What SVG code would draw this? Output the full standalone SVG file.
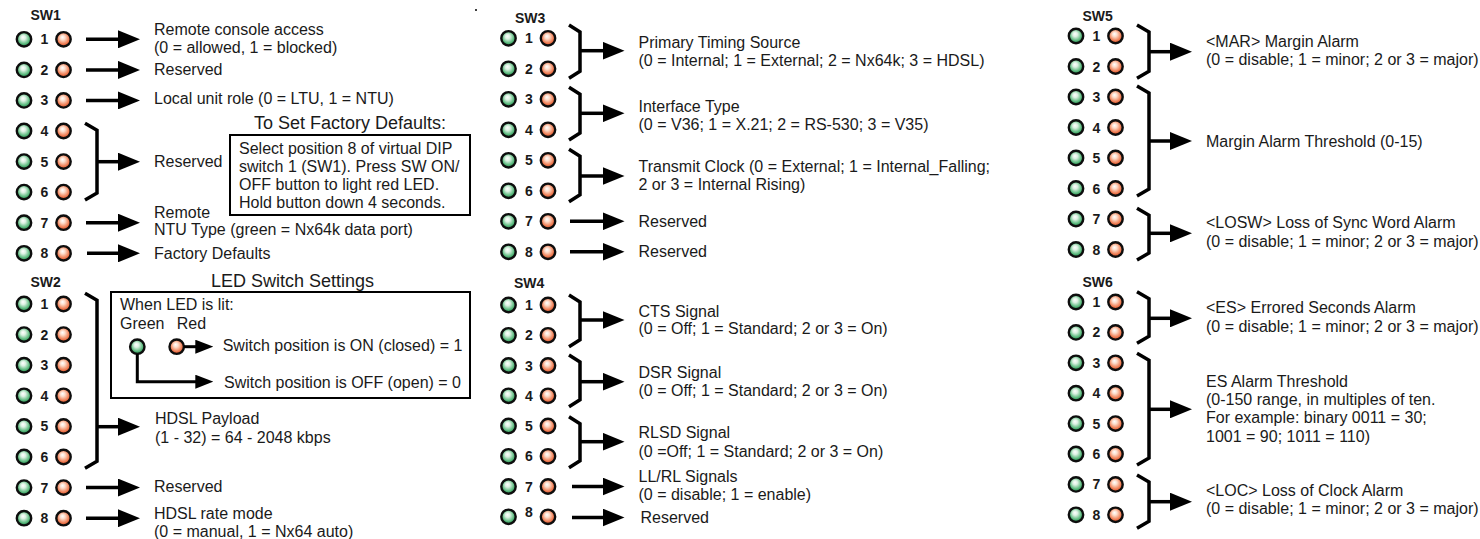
<svg xmlns="http://www.w3.org/2000/svg" width="1480" height="539" viewBox="0 0 1480 539">
<style>
.t{font-family:"Liberation Sans",Arial,Helvetica,sans-serif;font-size:16px;fill:#1a1a1a}
.h{font-family:"Liberation Sans",Arial,Helvetica,sans-serif;font-size:18px;fill:#1a1a1a;text-anchor:middle}
.n{font-family:"Liberation Sans",Arial,Helvetica,sans-serif;font-size:14px;font-weight:bold;fill:#1a1a1a;text-anchor:middle}
.sw{font-family:"Liberation Sans",Arial,Helvetica,sans-serif;font-size:14px;font-weight:bold;fill:#1a1a1a}
.g{fill:url(#gg);stroke:#0d0d0d;stroke-width:2.4}
.o{fill:url(#go);stroke:#0d0d0d;stroke-width:2.4}
.ar{fill:none;stroke:#000;stroke-width:3.5;marker-end:url(#ah)}
.as{fill:none;stroke:#000;stroke-width:3;marker-end:url(#ahs)}
.br{fill:none;stroke:#000;stroke-width:3.5;stroke-linejoin:miter}
.box{fill:#fff;stroke:#000;stroke-width:2}
</style>
<defs>
<radialGradient id="gg" cx="50%" cy="45%" r="55%" fx="42%" fy="35%">
<stop offset="0" stop-color="#ffffff"/><stop offset="0.3" stop-color="#dcf1e2"/><stop offset="0.7" stop-color="#62bd83"/><stop offset="1" stop-color="#1c8646"/>
</radialGradient>
<radialGradient id="go" cx="50%" cy="45%" r="55%" fx="42%" fy="35%">
<stop offset="0" stop-color="#ffffff"/><stop offset="0.3" stop-color="#fddcca"/><stop offset="0.7" stop-color="#f0845c"/><stop offset="1" stop-color="#d4471e"/>
</radialGradient>
<marker id="ah" markerUnits="userSpaceOnUse" markerWidth="22" markerHeight="18" refX="7" refY="9" orient="auto">
<path d="M0,0 L22,9 L0,18 Z" fill="#000"/>
</marker>
<marker id="ahs" markerUnits="userSpaceOnUse" markerWidth="18" markerHeight="14" refX="6" refY="7" orient="auto">
<path d="M0,0 L18,7 L0,14 Z" fill="#000"/>
</marker>
<g id="pair"><circle class="g" cx="0" cy="0" r="7.2"/><circle class="o" cx="39.5" cy="0" r="7.2"/></g>
</defs>
<rect width="1480" height="539" fill="#fff"/>
<circle cx="476" cy="10" r="1" fill="#000"/>

<!-- SW1 -->
<g id="sw1">
<text class="sw" x="30.5" y="20">SW1</text>
<g id="sw1-1"><use href="#pair" x="24" y="39.3"/><text class="n" x="44.5" y="44.3">1</text></g>
<g id="sw1-2"><use href="#pair" x="24" y="69.9"/><text class="n" x="44.5" y="74.9">2</text></g>
<g id="sw1-3"><use href="#pair" x="24" y="100.4"/><text class="n" x="44.5" y="105.4">3</text></g>
<g id="sw1-4"><use href="#pair" x="24" y="131"/><text class="n" x="44.5" y="136">4</text></g>
<g id="sw1-5"><use href="#pair" x="24" y="161.6"/><text class="n" x="44.5" y="166.6">5</text></g>
<g id="sw1-6"><use href="#pair" x="24" y="192.1"/><text class="n" x="44.5" y="197.1">6</text></g>
<g id="sw1-7"><use href="#pair" x="24" y="222.7"/><text class="n" x="44.5" y="227.7">7</text></g>
<g id="sw1-8"><use href="#pair" x="24" y="253.3"/><text class="n" x="44.5" y="258.3">8</text></g>
</g>
<g id="sw1-desc">
<text class="t" x="154" y="35">Remote console access</text>
<text class="t" x="154" y="53">(0 = allowed, 1 = blocked)</text>
<text class="t" x="154" y="75">Reserved</text>
<text class="t" x="154" y="104">Local unit role (0 = LTU, 1 = NTU)</text>
<text class="t" x="154" y="167">Reserved</text>
<text class="t" x="154" y="217.5">Remote</text>
<text class="t" x="154" y="235">NTU Type (green = Nx64k data port)</text>
<text class="t" x="154" y="259">Factory Defaults</text>
</g>
<g id="factory-box">
<text class="h" x="350" y="128.5">To Set Factory Defaults:</text>
<rect class="box" x="230" y="135" width="240" height="80"/>
<text class="t" x="239" y="153.5">Select position 8 of virtual DIP</text>
<text class="t" x="239" y="171.5">switch 1 (SW1). Press SW ON/</text>
<text class="t" x="239" y="189.5">OFF button to light red LED.</text>
<text class="t" x="239" y="207.5">Hold button down 4 seconds.</text>
</g>

<!-- SW2 -->
<g id="sw2">
<text class="sw" x="30.5" y="286.7">SW2</text>
<g id="sw2-1"><use href="#pair" x="24" y="304"/><text class="n" x="44.5" y="309">1</text></g>
<g id="sw2-2"><use href="#pair" x="24" y="334.6"/><text class="n" x="44.5" y="339.6">2</text></g>
<g id="sw2-3"><use href="#pair" x="24" y="365.2"/><text class="n" x="44.5" y="370.2">3</text></g>
<g id="sw2-4"><use href="#pair" x="24" y="395.8"/><text class="n" x="44.5" y="400.8">4</text></g>
<g id="sw2-5"><use href="#pair" x="24" y="426.4"/><text class="n" x="44.5" y="431.4">5</text></g>
<g id="sw2-6"><use href="#pair" x="24" y="457"/><text class="n" x="44.5" y="462">6</text></g>
<g id="sw2-7"><use href="#pair" x="24" y="487.6"/><text class="n" x="44.5" y="492.6">7</text></g>
<g id="sw2-8"><use href="#pair" x="24" y="518.2"/><text class="n" x="44.5" y="523.2">8</text></g>
</g>
<g id="sw2-desc">
<text class="t" x="155" y="424.3">HDSL Payload</text>
<text class="t" x="155" y="442.7">(1 - 32) = 64 - 2048 kbps</text>
<text class="t" x="154" y="492.3">Reserved</text>
<text class="t" x="154" y="519.3">HDSL rate mode</text>
<text class="t" x="154" y="537.3">(0 = manual, 1 = Nx64 auto)</text>
</g>
<g id="led-box">
<text class="h" x="292.5" y="286.5">LED Switch Settings</text>
<rect class="box" x="111" y="292" width="359" height="106"/>
<text class="t" x="120" y="310">When LED is lit:</text>
<text class="t" x="120" y="329.3">Green</text>
<text class="t" x="176.7" y="329.3">Red</text>
<circle class="g" cx="137.3" cy="346.7" r="7.2"/>
<circle class="o" cx="176.7" cy="346.7" r="7.2"/>
<text class="t" x="222.7" y="350.5">Switch position is ON (closed) = 1</text>
<text class="t" x="224" y="387.7">Switch position is OFF (open) = 0</text>
</g>

<!-- SW3 -->
<g id="sw3">
<text class="sw" x="515" y="22.7">SW3</text>
<g id="sw3-1"><use href="#pair" x="508.5" y="38.3"/><text class="n" x="529" y="43.3">1</text></g>
<g id="sw3-2"><use href="#pair" x="508.5" y="68.8"/><text class="n" x="529" y="73.8">2</text></g>
<g id="sw3-3"><use href="#pair" x="508.5" y="99.3"/><text class="n" x="529" y="104.3">3</text></g>
<g id="sw3-4"><use href="#pair" x="508.5" y="129.8"/><text class="n" x="529" y="134.8">4</text></g>
<g id="sw3-5"><use href="#pair" x="508.5" y="160.3"/><text class="n" x="529" y="165.3">5</text></g>
<g id="sw3-6"><use href="#pair" x="508.5" y="190.8"/><text class="n" x="529" y="195.8">6</text></g>
<g id="sw3-7"><use href="#pair" x="508.5" y="221.3"/><text class="n" x="529" y="226.3">7</text></g>
<g id="sw3-8"><use href="#pair" x="508.5" y="251.8"/><text class="n" x="529" y="256.8">8</text></g>
</g>
<g id="sw3-desc">
<text class="t" x="638.5" y="48.3">Primary Timing Source</text>
<text class="t" x="638.5" y="66">(0 = Internal; 1 = External; 2 = Nx64k; 3 = HDSL)</text>
<text class="t" x="638.5" y="111.7">Interface Type</text>
<text class="t" x="638.5" y="130">(0 = V36; 1 = X.21; 2 = RS-530; 3 = V35)</text>
<text class="t" x="638.5" y="171.7">Transmit Clock (0 = External; 1 = Internal_Falling;</text>
<text class="t" x="638.5" y="190">2 or 3 = Internal Rising)</text>
<text class="t" x="638.5" y="227.3">Reserved</text>
<text class="t" x="638.5" y="256.7">Reserved</text>
</g>

<!-- SW4 -->
<g id="sw4">
<text class="sw" x="514" y="288.3">SW4</text>
<g id="sw4-1"><use href="#pair" x="508.5" y="305"/><text class="n" x="529" y="310">1</text></g>
<g id="sw4-2"><use href="#pair" x="508.5" y="335.3"/><text class="n" x="529" y="340.3">2</text></g>
<g id="sw4-3"><use href="#pair" x="508.5" y="365.5"/><text class="n" x="529" y="370.5">3</text></g>
<g id="sw4-4"><use href="#pair" x="508.5" y="395.8"/><text class="n" x="529" y="400.8">4</text></g>
<g id="sw4-5"><use href="#pair" x="508.5" y="426"/><text class="n" x="529" y="431">5</text></g>
<g id="sw4-6"><use href="#pair" x="508.5" y="456.3"/><text class="n" x="529" y="461.3">6</text></g>
<g id="sw4-7"><use href="#pair" x="508.5" y="486.5"/><text class="n" x="529" y="491.5">7</text></g>
<g id="sw4-8"><use href="#pair" x="508.5" y="516.8"/><text class="n" x="529" y="517">8</text></g>
</g>
<g id="sw4-desc">
<text class="t" x="638.5" y="316.7">CTS Signal</text>
<text class="t" x="638.5" y="334.3">(0 = Off; 1 = Standard; 2 or 3 = On)</text>
<text class="t" x="638.5" y="378.3">DSR Signal</text>
<text class="t" x="638.5" y="395.7">(0 = Off; 1 = Standard; 2 or 3 = On)</text>
<text class="t" x="638.5" y="438.3">RLSD Signal</text>
<text class="t" x="638.5" y="456.7">(0 =Off; 1 = Standard; 2 or 3 = On)</text>
<text class="t" x="638.5" y="482.3">LL/RL Signals</text>
<text class="t" x="638.5" y="500">(0 = disable; 1 = enable)</text>
<text class="t" x="640.5" y="523.3">Reserved</text>
</g>

<!-- SW5 -->
<g id="sw5">
<text class="sw" x="1082.5" y="20.5">SW5</text>
<g id="sw5-1"><use href="#pair" x="1076" y="36"/><text class="n" x="1096.5" y="41">1</text></g>
<g id="sw5-2"><use href="#pair" x="1076" y="66.5"/><text class="n" x="1096.5" y="71.5">2</text></g>
<g id="sw5-3"><use href="#pair" x="1076" y="97"/><text class="n" x="1096.5" y="102">3</text></g>
<g id="sw5-4"><use href="#pair" x="1076" y="127.5"/><text class="n" x="1096.5" y="132.5">4</text></g>
<g id="sw5-5"><use href="#pair" x="1076" y="158"/><text class="n" x="1096.5" y="163">5</text></g>
<g id="sw5-6"><use href="#pair" x="1076" y="188.5"/><text class="n" x="1096.5" y="193.5">6</text></g>
<g id="sw5-7"><use href="#pair" x="1076" y="219"/><text class="n" x="1096.5" y="224">7</text></g>
<g id="sw5-8"><use href="#pair" x="1076" y="249.5"/><text class="n" x="1096.5" y="254.5">8</text></g>
</g>
<g id="sw5-desc">
<text class="t" x="1206" y="46.7">&lt;MAR&gt; Margin Alarm</text>
<text class="t" x="1206" y="65">(0 = disable; 1 = minor; 2 or 3 = major)</text>
<text class="t" x="1206" y="147">Margin Alarm Threshold (0-15)</text>
<text class="t" x="1206" y="228.3">&lt;LOSW&gt; Loss of Sync Word Alarm</text>
<text class="t" x="1206" y="246.7">(0 = disable; 1 = minor; 2 or 3 = major)</text>
</g>

<!-- SW6 -->
<g id="sw6">
<text class="sw" x="1082.5" y="286.7">SW6</text>
<g id="sw6-1"><use href="#pair" x="1076" y="302"/><text class="n" x="1096.5" y="307">1</text></g>
<g id="sw6-2"><use href="#pair" x="1076" y="332.4"/><text class="n" x="1096.5" y="337.4">2</text></g>
<g id="sw6-3"><use href="#pair" x="1076" y="362.8"/><text class="n" x="1096.5" y="367.8">3</text></g>
<g id="sw6-4"><use href="#pair" x="1076" y="393.2"/><text class="n" x="1096.5" y="398.2">4</text></g>
<g id="sw6-5"><use href="#pair" x="1076" y="423.6"/><text class="n" x="1096.5" y="428.6">5</text></g>
<g id="sw6-6"><use href="#pair" x="1076" y="454"/><text class="n" x="1096.5" y="459">6</text></g>
<g id="sw6-7"><use href="#pair" x="1076" y="484.4"/><text class="n" x="1096.5" y="489.4">7</text></g>
<g id="sw6-8"><use href="#pair" x="1076" y="514.8"/><text class="n" x="1096.5" y="519.8">8</text></g>
</g>
<g id="sw6-desc">
<text class="t" x="1206" y="313.3">&lt;ES&gt; Errored Seconds Alarm</text>
<text class="t" x="1206" y="331.7">(0 = disable; 1 = minor; 2 or 3 = major)</text>
<text class="t" x="1206" y="386.7">ES Alarm Threshold</text>
<text class="t" x="1206" y="405">(0-150 range, in multiples of ten.</text>
<text class="t" x="1206" y="423.3">For example: binary 0011 = 30;</text>
<text class="t" x="1206" y="441.7">1001 = 90; 1011 = 110)</text>
<text class="t" x="1206" y="496">&lt;LOC&gt; Loss of Clock Alarm</text>
<text class="t" x="1206" y="514">(0 = disable; 1 = minor; 2 or 3 = major)</text>
</g>

<!-- Connectors -->
<g id="connectors">
<path class="ar" d="M86,39.3 H125"/>
<path class="ar" d="M86,69.9 H125"/>
<path class="ar" d="M86,100.4 H125"/>
<path class="br" d="M85,123.3 L97,130.3 V193 L85,200"/>
<path class="ar" d="M97,161.7 H125"/>
<path class="ar" d="M86,222.7 H125"/>
<path class="ar" d="M87,253.3 H125"/>

<path class="br" d="M85,293.3 L97,300.3 V461.3 L85,468.3"/>
<path class="ar" d="M97,426.7 H125"/>
<path class="ar" d="M86,487.6 H125"/>
<path class="ar" d="M86,518.2 H125"/>
<path class="as" d="M184,346.7 H201.3"/>
<path class="as" d="M137.3,353.9 V381.7 H201.3"/>

<path class="br" d="M569,25 L580,32 V71.3 L569,78.3"/>
<path class="ar" d="M580,50.7 H609.5"/>
<path class="br" d="M569,87.3 L580,94.3 V133 L569,140"/>
<path class="ar" d="M580,113.3 H609.5"/>
<path class="br" d="M569,149.3 L580,156.3 V194.7 L569,201.7"/>
<path class="ar" d="M580,176 H609.5"/>
<path class="ar" d="M570,221.3 H609.5"/>
<path class="ar" d="M570,251.8 H609.5"/>

<path class="br" d="M569,295 L580,302 V339.7 L569,346.7"/>
<path class="ar" d="M580,320 H609.5"/>
<path class="br" d="M569,355 L580,362 V399.7 L569,406.7"/>
<path class="ar" d="M580,381.7 H609.5"/>
<path class="br" d="M569,416.7 L580,423.7 V460.7 L569,467.7"/>
<path class="ar" d="M580,441.7 H609.5"/>
<path class="ar" d="M572,486.5 H609.5"/>
<path class="ar" d="M572,517.5 H609.5"/>

<path class="br" d="M1137,25 L1149,32 V71.3 L1137,78.3"/>
<path class="ar" d="M1149,51.7 H1177"/>
<path class="br" d="M1137,86 L1149,93 V189 L1137,196"/>
<path class="ar" d="M1149,141 H1177"/>
<path class="br" d="M1137,208.3 L1149,215.3 V253 L1137,260"/>
<path class="ar" d="M1149,233.3 H1177"/>

<path class="br" d="M1137,291.7 L1149,298.7 V336.3 L1137,343.3"/>
<path class="ar" d="M1149,318.3 H1177"/>
<path class="br" d="M1137,353.3 L1149,360.3 V458 L1137,465"/>
<path class="ar" d="M1149,409.3 H1177"/>
<path class="br" d="M1137,475 L1149,482 V521.3 L1137,528.3"/>
<path class="ar" d="M1149,501.7 H1177"/>
</g>
</svg>
